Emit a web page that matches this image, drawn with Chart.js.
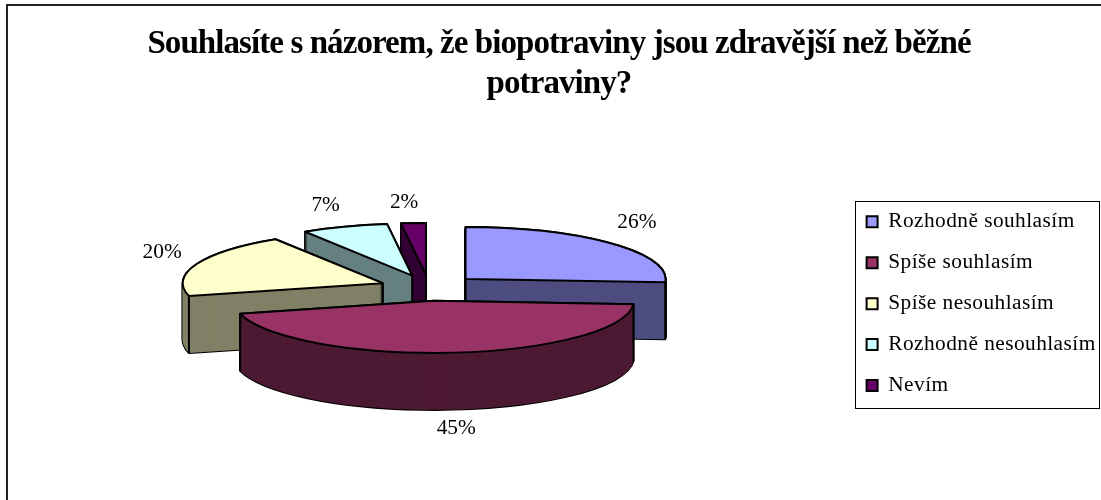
<!DOCTYPE html>
<html lang="cs">
<head>
<meta charset="UTF-8">
<title>Biopotraviny</title>
<script src="https://cdn.jsdelivr.net/npm/chart.js"></script>
<style>
    html, body { margin: 0; padding: 0; background: #fff; }
    #wrap { width: 1101px; height: 500px; position: relative; }
</style>
</head>
<body>
<div id="wrap"><canvas id="myChart" width="1101" height="500"></canvas></div>
<script>
const categories = ['Rozhodně souhlasím', 'Spíše souhlasím', 'Spíše nesouhlasím', 'Rozhodně nesouhlasím', 'Nevím'];
const shares = [26, 45, 20, 7, 2];
const topColors = ['#9999FF', '#993366', '#FFFFCC', '#CCFFFF', '#660066'];
const wallColors = ['#4D4D80', '#4D1A33', '#808066', '#668080', '#330033'];
const titleLines = ['Souhlasíte s názorem, že biopotraviny jsou zdravější než běžné', 'potraviny?'];

// 3D look: tilt of the ellipse, wall height, explosion of slices
const TILT = 0.26;
const WALL = 57;
const EXPLODE = 50;

function slicePath(ctx, arc, dy) {
    const mid = (arc.startAngle + arc.endAngle) / 2;
    const rx = arc.outerRadius, ry = rx * TILT;
    const cx = arc.x + Math.cos(mid) * EXPLODE;
    const cy = arc.y + Math.sin(mid) * EXPLODE * TILT + dy;
    ctx.beginPath();
    ctx.moveTo(cx, cy);
    ctx.ellipse(cx, cy, rx, ry, 0, arc.startAngle, arc.endAngle);
    ctx.closePath();
    return {cx, cy, rx, ry, mid};
}

function drawSlice(ctx, arc, i) {
    ctx.lineJoin = 'round';
    ctx.lineWidth = 2;
    // black silhouette, then wall colour swept over it
    ctx.strokeStyle = ctx.fillStyle = '#000';
    for (let dy = WALL; dy >= 0; dy--) { slicePath(ctx, arc, dy); ctx.stroke(); }
    ctx.fillStyle = wallColors[i];
    for (let dy = WALL; dy >= 0; dy--) { slicePath(ctx, arc, dy); ctx.fill(); }
    // vertical edges, only the ones on the visible side
    const {cx, cy, rx, ry, mid} = slicePath(ctx, arc, 0);
    const corners = [];
    if (Math.sin(mid) < 0) corners.push([cx, cy]);
    [arc.startAngle, arc.endAngle].forEach(a => {
        if (Math.sin(a) > 0) corners.push([cx + Math.cos(a) * rx, cy + Math.sin(a) * ry]);
    });
    ctx.beginPath();
    corners.forEach(p => { ctx.moveTo(p[0], p[1]); ctx.lineTo(p[0], p[1] + WALL); });
    ctx.stroke();
    // top face
    slicePath(ctx, arc, 0);
    ctx.fillStyle = topColors[i];
    ctx.fill();
    ctx.stroke();
}

const pie3d = {
    id: 'pie3d',
    beforeDraw(chart) {
        const ctx = chart.ctx;
        // legend sits in its own frame
        const legend = chart.legend;
        legend.left = 847;
        legend.top = 191.5;
        ctx.save();
        ctx.strokeStyle = '#000';
        ctx.lineWidth = 1;
        ctx.strokeRect(855.5, 201.5, 244, 207);
        // chart frame
        ctx.lineWidth = 2;
        ctx.strokeStyle = '#222';
        ctx.beginPath();
        ctx.moveTo(7, 500);
        ctx.lineTo(7, 5);
        ctx.lineTo(1101, 5);
        ctx.stroke();
        ctx.restore();
        // title and legend run tighter / wider than the plain font
        const title = chart.titleBlock;
        if (!title.tightened) {
            const drawTitle = title.draw;
            title.draw = function () {
                ctx.save();
                ctx.letterSpacing = '-0.92px';
                ctx.translate(5, 0);
                drawTitle.apply(this, arguments);
                ctx.restore();
            };
            title.tightened = true;
        }
        ctx.letterSpacing = '0.45px';
    },
    beforeDatasetsDraw(chart) {
        const ctx = chart.ctx;
        const arcs = chart.getDatasetMeta(0).data;
        ctx.save();
        ctx.letterSpacing = '0px';
        // back to front
        [4, 3, 2, 0, 1].forEach(i => drawSlice(ctx, arcs[i], i));
        // percent labels
        ctx.fillStyle = '#000';
        ctx.font = '21.33px "Liberation Serif"';
        ctx.textAlign = 'center';
        ctx.textBaseline = 'middle';
        arcs.forEach((arc, i) => {
            const mid = (arc.startAngle + arc.endAngle) / 2;
            const s = Math.sin(mid);
            const cx = arc.x + Math.cos(mid) * EXPLODE;
            const cy = arc.y + s * EXPLODE * TILT;
            let px = cx + Math.cos(mid) * (arc.outerRadius + 38);
            let py = cy + s * arc.outerRadius * TILT;
            if (s > 0) {
                py += WALL + 19;
            } else {
                px += 2 - 9 * s * s;
                py -= Math.min(21, 32 * -s);
            }
            ctx.fillText(shares[i] + '%', px, py);
        });
        ctx.restore();
        return false; // slices are done here, skip the flat pie
    }
};

new Chart(document.getElementById('myChart').getContext('2d'), {
    type: 'pie',
    data: {
        labels: categories,
        datasets: [{ data: shares, backgroundColor: topColors, borderColor: '#000', borderWidth: 2, radius: 200 }]
    },
    options: {
        responsive: false,
        animation: false,
        layout: { padding: { left: 11, right: 4, top: 0, bottom: 29 } },
        plugins: {
            tooltip: { enabled: false },
            title: {
                display: true,
                text: titleLines,
                color: '#000',
                font: { family: '"Liberation Serif"', size: 33, weight: 'bold', lineHeight: 1.21 },
                padding: { top: 25, bottom: 0 }
            },
            legend: {
                position: 'right',
                align: 'start',
                maxWidth: 261,
                labels: {
                    color: '#000',
                    font: { family: '"Liberation Serif"', size: 21.33 },
                    boxWidth: 11,
                    boxHeight: 11,
                    padding: 19.6
                }
            }
        }
    },
    plugins: [pie3d]
});
</script>
</body>
</html>
